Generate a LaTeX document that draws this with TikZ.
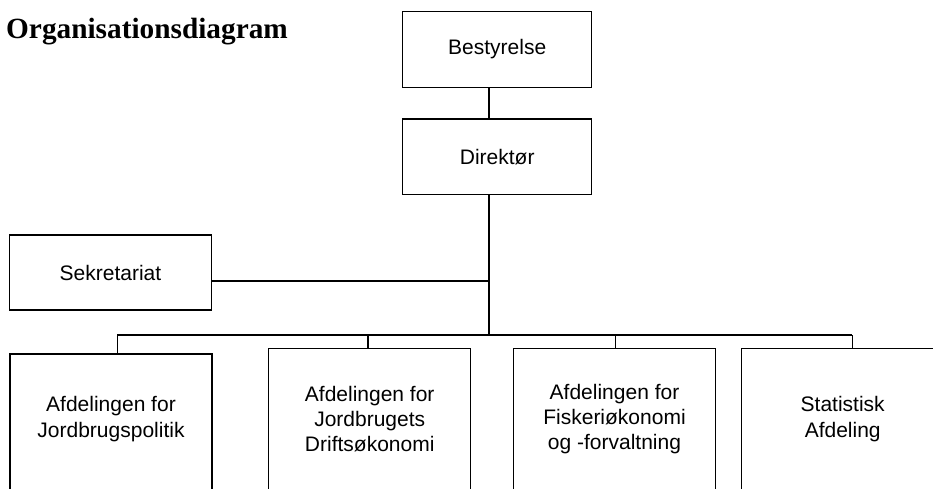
\documentclass[tikz,border=0pt]{standalone}
\usepackage{fontspec}
\setmainfont{Liberation Serif}
\newfontfamily\helv{Liberation Sans}
\usepackage{tikz}

\tikzset{
	boks/.style={draw, line width=1.2pt, inner sep=0pt, font=\helv\fontsize{21}{25.3}\selectfont},
	afd/.style={boks, minimum width=202pt, minimum height=160pt, anchor=north},
	afdtekst/.style={align=center, inner sep=0pt, font=\helv\fontsize{21}{25.3}\selectfont},
	linje/.style={line width=1.2pt}
}

\begin{document}
\begin{tikzpicture}[x=1pt, y=-1pt]
	
	% Ramme
	\clip (0,0) rectangle (933,488);
	
	% Overskrift
	\node[anchor=base west, inner sep=0pt, font=\bfseries\fontsize{29.3}{34}\selectfont] (titel) at (6,38) {Organisationsdiagram};
	
	% Ledelse
	\node[boks, minimum width=189pt, minimum height=75.6pt] (best) at (497.2,49.5) {Bestyrelse};
	\node[boks, minimum width=189pt, minimum height=75.3pt] (dir) at (497.2,156.7) {Direktør};
	\node[boks, minimum width=202.4pt, minimum height=75pt] (sek) at (110.5,272.5) {Sekretariat};
	
	% Hjælpepunkter
	\coordinate (stamme) at (489,335);
	\coordinate (sekline) at (489,281);
	\coordinate (tekstlinje) at (0,419);
	\coordinate (b1) at (117.3,335);
	\coordinate (b2) at (368,335);
	\coordinate (b3) at (615.7,335);
	\coordinate (b4) at (852.3,335);
	
	% Afdelinger
	\node[afd] (d1) at (111,353.3) {};
	\node[afd] (d2) at (369.7,348) {};
	\node[afd] (d3) at (614.5,348) {};
	\node[afd] (d4) at (842.7,348) {};
	
	\node[afdtekst] (t1) at (d1 |- tekstlinje) {Afdelingen for\\Jordbrugspolitik};
	\node[afdtekst] (t2) at (d2 |- tekstlinje) {Afdelingen for\\Jordbrugets\\Driftsøkonomi};
	\node[afdtekst] (t3) at (d3 |- tekstlinje) {Afdelingen for\\Fiskeriøkonomi\\og -forvaltning};
	\node[afdtekst] (t4) at (d4 |- tekstlinje) {Statistisk\\Afdeling};
	
	% Forbindelser
	\draw[linje] (best.south -| stamme) -- (dir.north -| stamme);
	\draw[linje] (dir.south -| stamme) -- (stamme);
	\draw[linje] (sek.east |- sekline) -- (sekline);
	\draw[linje] (b1) -- (b4);
	\draw[linje] (b1) -- (b1 |- d1.north);
	\draw[linje] (b2) -- (b2 |- d2.north);
	\draw[linje] (b3) -- (b3 |- d3.north);
	\draw[linje] (b4) -- (b4 |- d4.north);
	
\end{tikzpicture}
\end{document}
